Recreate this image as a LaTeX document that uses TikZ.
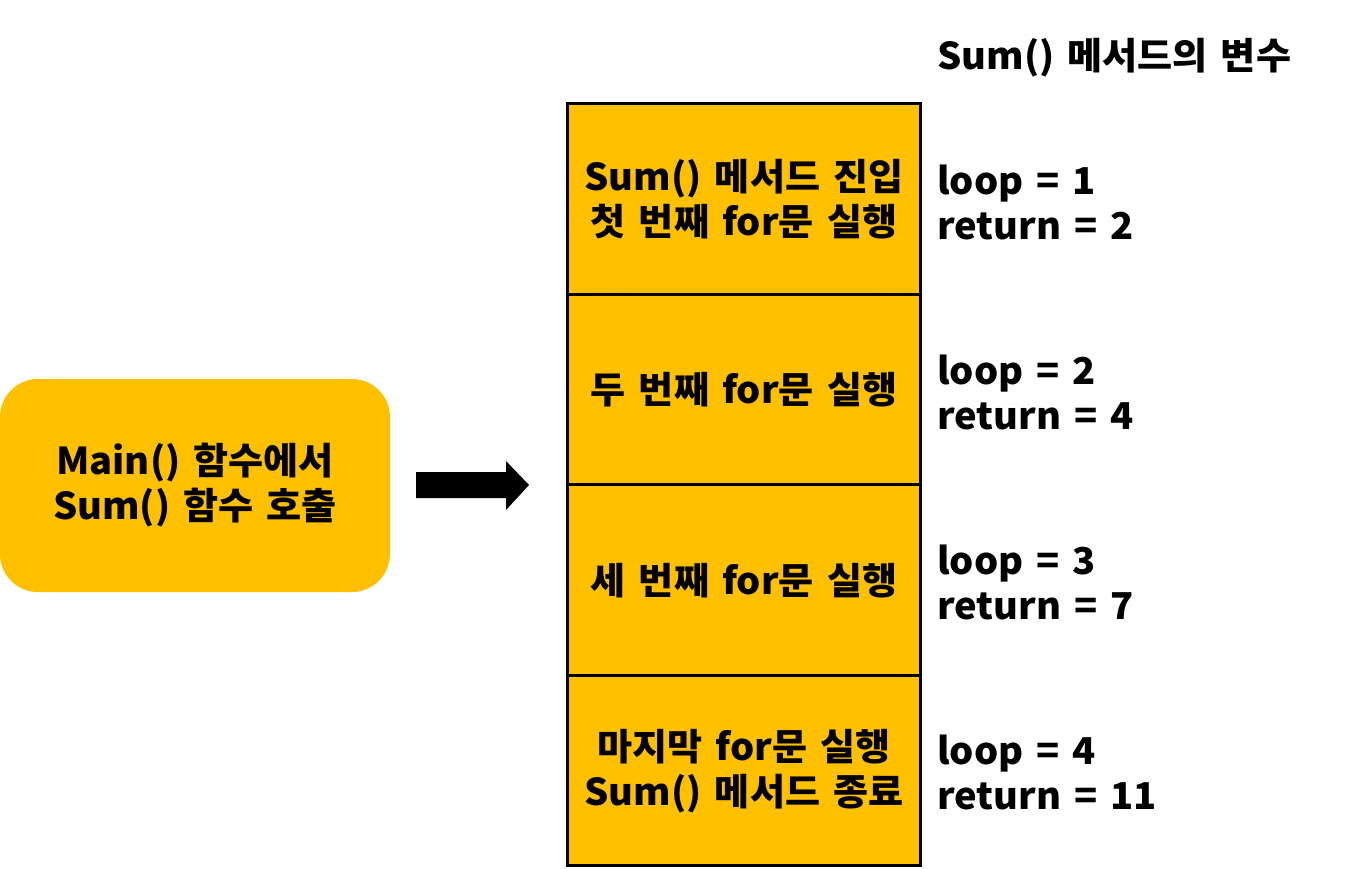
\documentclass[tikz,border=0pt]{standalone}
\usepackage{fontspec}
\setmainfont{Noto Sans CJK KR}[FakeStretch=1.03, WordSpace=1.5]
\usetikzlibrary{positioning}
\definecolor{boxorange}{HTML}{FFC000}
\begin{document}
\begin{tikzpicture}[x=1pt,y=-1pt,
  txt/.style={font=\fontsize{37}{45}\selectfont\bfseries, inner sep=0pt},
  stackrow/.style={txt, draw=black, line width=3pt, fill=boxorange,
    minimum width=353pt, minimum height=190.5pt, align=center},
  varlabel/.style={txt, anchor=west, align=left},
  mainbox/.style={txt, fill=boxorange, rounded corners=38pt,
    minimum width=390pt, minimum height=213pt, align=center}]
\useasboundingbox (0,0) rectangle (1347,868);
\node[mainbox] (main) at (195,485.5) {Main() 함수에서\\Sum() 함수 호출};
\node[stackrow] (r1) at (744,199.2) {Sum() 메서드 진입\\첫 번째 for문 실행};
\node[stackrow] (r2) at (744,389.7) {두 번째 for문 실행};
\node[stackrow] (r3) at (744,580.2) {세 번째 for문 실행};
\node[stackrow] (r4) at (744,770.7) {마지막 for문 실행\\Sum() 메서드 종료};
\node[varlabel] (title) at (937,58) {Sum() 메서드의 변수};
\node[varlabel] (v1) at (937,202) {loop = 1\\return = 2};
\node[varlabel] (v2) at (937,392) {loop = 2\\return = 4};
\node[varlabel] (v3) at (937,582) {loop = 3\\return = 7};
\node[varlabel] (v4) at (937,772.5) {loop = 4\\return = 11};
\fill[black] (416,472) -- (506,472) -- (506,461) -- (529,485) -- (506,510) -- (506,498) -- (416,498) -- cycle;
\end{tikzpicture}
\end{document}
